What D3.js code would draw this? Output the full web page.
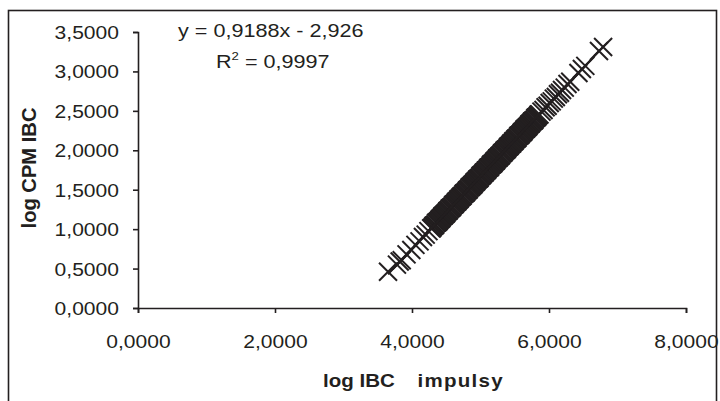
<!DOCTYPE html>
<html>
<head>
<meta charset="utf-8">
<script src="https://cdn.jsdelivr.net/npm/d3@7"></script>
<style>
  body { margin: 0; background: #fff; }
  svg { display: block; font-family: "Liberation Sans", Arial, sans-serif; }
</style>
</head>
<body>
<div id="chart-container"></div>
<script>
// data (log IBC impulsy vs log CPM IBC)
const logImp = [
  3.65, 3.78, 3.82, 3.85, 3.92, 3.99, 4.05, 4.11, 4.16, 4.20, 4.24,
  4.28, 4.30, 4.32, 4.34, 4.36, 4.38, 4.40, 4.42,
  4.44, 4.46, 4.48, 4.50, 4.52, 4.54, 4.56, 4.58,
  4.60, 4.62, 4.64, 4.66, 4.68, 4.70, 4.72, 4.74,
  4.76, 4.78, 4.80, 4.82, 4.84, 4.86, 4.88, 4.90,
  4.92, 4.94, 4.96, 4.98, 5.00, 5.02, 5.04, 5.06,
  5.08, 5.10, 5.12, 5.14, 5.16, 5.18, 5.20, 5.22,
  5.24, 5.26, 5.28, 5.30, 5.32, 5.34, 5.36, 5.38,
  5.40, 5.42, 5.44, 5.46, 5.48, 5.50, 5.52, 5.54,
  5.56, 5.58, 5.60, 5.62, 5.64, 5.66, 5.68, 5.70,
  5.72, 5.74, 5.76, 5.78, 5.80, 5.82, 5.84, 5.86,
  5.89, 5.92, 5.95, 5.98, 6.01, 6.04, 6.07, 6.10, 6.13, 6.16,
  6.19, 6.23, 6.27, 6.31,
  6.43, 6.48, 6.53, 6.73, 6.79
]
const logCpm = [
  0.460, 0.550, 0.590, 0.605, 0.680, 0.735, 0.800, 0.845, 0.900, 0.930, 0.975,
  1.010, 1.022, 1.045, 1.057, 1.085, 1.096, 1.118, 1.131,
  1.158, 1.169, 1.192, 1.204, 1.232, 1.243, 1.265, 1.278,
  1.305, 1.316, 1.339, 1.351, 1.379, 1.390, 1.412, 1.425,
  1.451, 1.463, 1.486, 1.498, 1.526, 1.537, 1.559, 1.572,
  1.598, 1.610, 1.633, 1.645, 1.673, 1.684, 1.706, 1.719,
  1.745, 1.757, 1.780, 1.792, 1.820, 1.831, 1.853, 1.866,
  1.892, 1.904, 1.927, 1.939, 1.967, 1.978, 2.000, 2.013,
  2.039, 2.051, 2.074, 2.085, 2.114, 2.125, 2.147, 2.160,
  2.186, 2.198, 2.221, 2.232, 2.261, 2.272, 2.294, 2.307,
  2.333, 2.345, 2.368, 2.379, 2.408, 2.419, 2.441, 2.454,
  2.490, 2.510, 2.545, 2.565, 2.600, 2.620, 2.655, 2.675, 2.710, 2.730,
  2.765, 2.795, 2.840, 2.870,
  2.980, 3.030, 3.070, 3.260, 3.310
]
// second batch of the dense middle part
const logImp2 = [
  4.29, 4.31, 4.33, 4.35, 4.37, 4.39, 4.41, 4.43, 4.45, 4.47,
  4.49, 4.51, 4.53, 4.55, 4.57, 4.59, 4.61, 4.63, 4.65, 4.67,
  4.69, 4.71, 4.73, 4.75, 4.77, 4.79, 4.81, 4.83, 4.85, 4.87,
  4.89, 4.91, 4.93, 4.95, 4.97, 4.99, 5.01, 5.03, 5.05, 5.07,
  5.09, 5.11, 5.13, 5.15, 5.17, 5.19, 5.21, 5.23, 5.25, 5.27,
  5.29, 5.31, 5.33, 5.35, 5.37, 5.39, 5.41, 5.43, 5.45, 5.47,
  5.49, 5.51, 5.53, 5.55, 5.57, 5.59, 5.61, 5.63, 5.65, 5.67,
  5.69, 5.71, 5.73, 5.75, 5.77, 5.79, 5.81, 5.83, 5.85
]
const logCpm2 = [
  1.012, 1.037, 1.050, 1.076, 1.088, 1.104, 1.129, 1.142, 1.168, 1.180,
  1.195, 1.221, 1.234, 1.260, 1.272, 1.287, 1.313, 1.326, 1.351, 1.364,
  1.379, 1.405, 1.418, 1.443, 1.456, 1.471, 1.496, 1.510, 1.535, 1.548,
  1.563, 1.588, 1.602, 1.627, 1.639, 1.655, 1.680, 1.694, 1.719, 1.731,
  1.747, 1.772, 1.785, 1.811, 1.823, 1.839, 1.864, 1.877, 1.903, 1.915,
  1.930, 1.956, 1.969, 1.995, 2.007, 2.022, 2.048, 2.061, 2.086, 2.099,
  2.114, 2.140, 2.153, 2.178, 2.191, 2.206, 2.231, 2.245, 2.270, 2.283,
  2.298, 2.323, 2.337, 2.362, 2.374, 2.390, 2.415, 2.429, 2.454
]
const xTicks = [0, 2, 4, 6, 8]
const yTicks = [0, 0.5, 1, 1.5, 2, 2.5, 3, 3.5]
const slope = 0.9188
const intercept = -2.926
const eqLabel = 'y = 0,9188x - 2,926'
const r2Label = ' = 0,9997'
const xTitle = 'log IBC'
const xTitle2 = 'impulsy'
const yTitle = 'log CPM IBC'

// constants
const width = 720
const height = 401
const ink = '#231f20'
const sx = 1.17 // glyphs in the picture are a bit wider than tall
const mk = 9 // half size of the x marker

const svg = d3.select('#chart-container')
  .append('svg')
  .attr('width', width)
  .attr('height', height)

// outer chart frame
svg.append('rect')
  .attr('x', 8.5).attr('y', 10.5)
  .attr('width', 708).attr('height', 402)
  .attr('fill', 'none')
  .attr('stroke', ink)
  .attr('stroke-width', 1.6)

const xScale = d3.scaleLinear().domain([0, 8]).range([138, 686])
const yScale = d3.scaleLinear().domain([0, 3.5]).range([308, 32])

const loc = d3.formatLocale({decimal: ',', thousands: ' ', grouping: [3], currency: ['', '']})
const fmt = loc.format('.4f')

// axes
const yAxisG = svg.append('g')
  .attr('transform', `translate(${xScale(0)}, 0)`)
  .call(d3.axisLeft(yScale).tickValues(yTicks).tickFormat(fmt).tickSizeOuter(0).tickSize(5))
yAxisG.selectAll('text')
  .attr('x', 0).attr('dy', null).attr('y', 0)
  .attr('text-anchor', 'end')
  .attr('dominant-baseline', 'central')
  .attr('transform', `translate(-19, 0) scale(${sx}, 1)`)

const xAxisG = svg.append('g')
  .attr('transform', `translate(0, ${yScale(0)})`)
  .call(d3.axisBottom(xScale).tickValues(xTicks).tickFormat(fmt).tickSizeOuter(0).tickSize(5))
xAxisG.selectAll('text')
  .attr('y', 0).attr('dy', null)
  .attr('transform', `translate(0, 40) scale(${sx}, 1)`)

svg.selectAll('.domain, .tick line')
  .attr('stroke', ink)
  .attr('stroke-width', 1.6)
svg.selectAll('.tick text')
  .attr('fill', ink)
  .attr('font-size', 18)
  .attr('font-family', '"Liberation Sans", Arial, sans-serif')

// trendline
const allX = logImp.concat(logImp2)
const allY = logCpm.concat(logCpm2)
const xMin = d3.min(allX)
const xMax = d3.max(allX)
svg.append('line')
  .attr('x1', xScale(xMin)).attr('y1', yScale(slope * xMin + intercept))
  .attr('x2', xScale(xMax)).attr('y2', yScale(slope * xMax + intercept))
  .attr('stroke', ink)
  .attr('stroke-width', 1.8)

// x markers
const pts = allX.map((d, i) => ({x: d, y: allY[i]}))
svg.append('g')
  .selectAll('path')
  .data(pts).enter()
  .append('path')
  .attr('transform', d => `translate(${xScale(d.x)}, ${yScale(d.y)})`)
  .attr('d', `M${-mk},${-mk}L${mk},${mk}M${-mk},${mk}L${mk},${-mk}`)
  .attr('fill', 'none')
  .attr('stroke', ink)
  .attr('stroke-width', 2)

// trendline label
svg.append('text')
  .attr('transform', `translate(178, 37) scale(1.2, 1)`)
  .attr('font-size', 18).attr('fill', ink)
  .text(eqLabel)
const r2 = svg.append('text')
  .attr('transform', `translate(216, 68) scale(1.2, 1)`)
  .attr('font-size', 18).attr('fill', ink)
r2.append('tspan').text('R')
r2.append('tspan').attr('font-size', 11).attr('dy', -8).text('2')
r2.append('tspan').attr('dy', 8).text(r2Label)

// axis titles
const xt = svg.append('text')
  .attr('transform', `translate(323, 387) scale(1.14, 1)`)
  .attr('font-size', 18).attr('font-weight', 'bold').attr('fill', ink)
xt.append('tspan').text(xTitle)
xt.append('tspan').attr('dx', 20).attr('letter-spacing', 1.1).text(xTitle2)

svg.append('text')
  .attr('transform', `translate(36, 168) rotate(-90) scale(1.12, 1.14)`)
  .attr('text-anchor', 'middle')
  .attr('font-size', 18).attr('font-weight', 'bold').attr('fill', ink)
  .text(yTitle)
</script>
</body>
</html>
